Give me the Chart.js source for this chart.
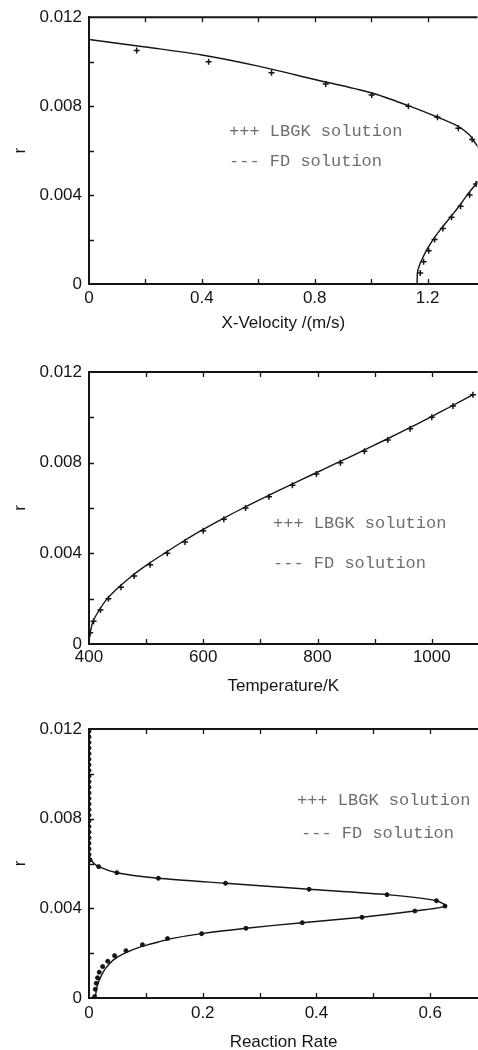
<!DOCTYPE html>
<html>
<head>
<meta charset="utf-8">
<script src="https://cdn.jsdelivr.net/npm/chart.js@4/dist/chart.umd.min.js"></script>
<style>
  html, body { margin: 0; padding: 0; background: #fff; }
  body { width: 478px; height: 1050px; position: relative; overflow: hidden; }
  canvas { position: absolute; left: 0; }
</style>
</head>
<body>
<!-- canvases are a little wider than the page: Chart.js keeps ~5px free on the right -->
<canvas id="velocityChart" width="483" height="340" style="top:0"></canvas>
<canvas id="temperatureChart" width="483" height="360" style="top:340px"></canvas>
<canvas id="rateChart" width="483" height="350" style="top:700px"></canvas>
<script>
// shared axis ticks
const rTicks = [0, 0.004, 0.008, 0.012];

// X-Velocity panel
const velTicks = [0, 0.4, 0.8, 1.2];
const velFdR = [0, 0.0005, 0.0008, 0.0011, 0.0016, 0.0021, 0.0026, 0.0031, 0.0036, 0.004, 0.0045, 0.0048, 0.0052, 0.0056, 0.006, 0.0062, 0.0065, 0.0067, 0.0071, 0.0075, 0.008, 0.0086, 0.0092, 0.0098, 0.0103, 0.01066, 0.011];
const velFdU = [1.163, 1.164, 1.170, 1.180, 1.200, 1.225, 1.255, 1.287, 1.318, 1.340, 1.372, 1.392, 1.405, 1.403, 1.389, 1.377, 1.360, 1.349, 1.307, 1.236, 1.136, 1.0, 0.8, 0.6, 0.4, 0.2, 0];
const velLbR = [0.0005, 0.001, 0.0015, 0.002, 0.0025, 0.003, 0.0035, 0.004, 0.0045, 0.0065, 0.007, 0.0075, 0.008, 0.0085, 0.009, 0.0095, 0.01, 0.0105];
const velLbU = [1.174, 1.186, 1.204, 1.225, 1.254, 1.285, 1.317, 1.349, 1.372, 1.358, 1.309, 1.235, 1.132, 1.002, 0.839, 0.647, 0.424, 0.169];

// Temperature panel
const tempTicks = [400, 600, 800, 1000];
const tempFdR = [0, 0.0003, 0.0006, 0.001, 0.0015, 0.002, 0.0025, 0.003, 0.0035, 0.004, 0.0045, 0.005, 0.0055, 0.006, 0.0065, 0.007, 0.0075, 0.008, 0.0085, 0.009, 0.0095, 0.01, 0.0105, 0.011];
const tempFdT = [400, 401, 403, 407, 418, 432, 452, 475, 502, 532, 563, 596, 632, 670, 710, 751, 793, 835, 877, 918, 958, 997, 1035, 1072];
const tempLbR = [0.0005, 0.001, 0.0015, 0.002, 0.0025, 0.003, 0.0035, 0.004, 0.0045, 0.005, 0.0055, 0.006, 0.0065, 0.007, 0.0075, 0.008, 0.0085, 0.009, 0.0095, 0.01, 0.0105, 0.011];
const tempLbT = [402, 408, 420, 434, 456, 479, 507, 537, 568, 600, 636, 674, 715, 756, 798, 840, 882, 923, 962, 1000, 1037, 1072];

// Reaction rate panel
const rateTicks = [0, 0.2, 0.4, 0.6];
const rateFdR = [0, 0.0005, 0.0009, 0.0013, 0.0017, 0.002, 0.0023, 0.0025, 0.00265, 0.00287, 0.00311, 0.00336, 0.0036, 0.00388, 0.0041, 0.00434, 0.00461, 0.00485, 0.00512, 0.00534, 0.00559, 0.00586, 0.0061, 0.0064, 0.012];
const rateFdW = [0.011, 0.014, 0.020, 0.0285, 0.043, 0.063, 0.093, 0.122, 0.145, 0.198, 0.276, 0.375, 0.48, 0.573, 0.628, 0.611, 0.524, 0.387, 0.24, 0.122, 0.049, 0.017, 0.005, 0, 0];
const rateLbR = [0.00006, 0.00039, 0.00066, 0.0009, 0.00115, 0.0014, 0.00164, 0.00189, 0.00211, 0.00238, 0.00265, 0.00287, 0.00311, 0.00336, 0.0036, 0.00388, 0.0041, 0.00434, 0.00461, 0.00485, 0.00512, 0.00534, 0.00559, 0.00586, 0.00616,
  0.0064, 0.00665, 0.0069, 0.00715, 0.0074, 0.00765, 0.0079, 0.00815, 0.0084, 0.00865, 0.0089, 0.00915, 0.0094, 0.00965, 0.0099, 0.01015, 0.0104, 0.01065, 0.0109, 0.01115, 0.0114, 0.01165, 0.0119];
const rateLbW = [0.0098, 0.011, 0.0128, 0.015, 0.018, 0.024, 0.033, 0.045, 0.065, 0.094, 0.138, 0.198, 0.276, 0.375, 0.48, 0.573, 0.626, 0.611, 0.524, 0.387, 0.24, 0.122, 0.049, 0.017, 0.002,
  0, 0, 0, 0, 0, 0, 0, 0, 0, 0, 0, 0, 0, 0, 0, 0, 0, 0, 0, 0, 0, 0, 0];

const ink = '#151515';
const sans = '"Liberation Sans", Arial, sans-serif';

function pairs(xs, ys) {
    return xs.map((x, i) => ({ x: x, y: ys[i] }));
}

function tickLabel(value, list, step) {
    const hit = list.find(l => Math.abs(l - value) < step * 1e-3);
    return hit === undefined ? '' : String(hit);
}

// top border, inward tick marks and the text legend
function frameBox(notes) {
    return {
        id: 'frameBox',
        afterDatasetsDraw(chart) {
            const { ctx, chartArea: { left, top, right, bottom }, scales: { x, y } } = chart;
            ctx.save();
            ctx.strokeStyle = ink;
            ctx.lineWidth = 2;
            ctx.beginPath();
            ctx.moveTo(left - 1, top);
            ctx.lineTo(right, top);
            ctx.stroke();

            ctx.lineWidth = 1.3;
            ctx.beginPath();
            x.ticks.forEach(t => {
                const px = Math.round(x.getPixelForValue(t.value)) + 0.5;
                if (px < left + 2 || px > right - 1) return;
                ctx.moveTo(px, bottom);
                ctx.lineTo(px, bottom - 5);
                ctx.moveTo(px, top);
                ctx.lineTo(px, top + 5);
            });
            y.ticks.forEach(t => {
                const py = Math.round(y.getPixelForValue(t.value)) + 0.5;
                if (py > bottom - 2 || py < top + 2) return;
                ctx.moveTo(left, py);
                ctx.lineTo(left + 5, py);
            });
            ctx.stroke();

            ctx.font = '17px "Liberation Mono", "Courier New", monospace';
            ctx.fillStyle = '#6e6e6e';
            ctx.textBaseline = 'middle';
            notes.forEach(n => ctx.fillText(n.text, n.x, n.y));
            ctx.restore();
        }
    };
}

function createPanel(id, cfg) {
    const ctx = document.getElementById(id).getContext('2d');
    new Chart(ctx, {
        type: 'scatter',
        data: {
            datasets: [{
                label: 'FD solution',
                data: cfg.fd,
                showLine: true,
                borderColor: ink,
                borderWidth: 1.4,
                pointRadius: 0,
                tension: cfg.tension,
                fill: false
            }, {
                label: 'LBGK solution',
                data: cfg.lb,
                pointStyle: cfg.marker,
                pointRadius: cfg.markerSize,
                borderWidth: cfg.markerLine,
                borderColor: ink,
                backgroundColor: ink
            }]
        },
        options: {
            responsive: false,
            animation: false,
            layout: { padding: { top: cfg.padTop, right: 0, bottom: 0, left: 0 } },
            elements: { line: { capBezierPoints: false } },
            plugins: {
                legend: { display: false },
                tooltip: { enabled: false }
            },
            scales: {
                x: {
                    type: 'linear',
                    min: cfg.xMin,
                    max: cfg.xMax,
                    afterFit: s => {
                        s.height = cfg.xAxisHeight;
                        s.paddingLeft = 0;
                        s.paddingRight = 0;
                    },
                    grid: { display: false, drawTicks: false },
                    border: { display: true, color: ink, width: 2 },
                    ticks: {
                        stepSize: cfg.xStep,
                        includeBounds: false,
                        autoSkip: false,
                        maxRotation: 0,
                        padding: cfg.tickPad,
                        color: ink,
                        font: { family: sans, size: 17 },
                        callback: v => tickLabel(v, cfg.xTicks, cfg.xStep)
                    },
                    title: {
                        display: true,
                        text: cfg.xTitle,
                        color: ink,
                        font: { family: sans, size: 17 },
                        padding: { top: 0, bottom: cfg.titlePad }
                    }
                },
                y: {
                    type: 'linear',
                    min: 0,
                    max: 0.012,
                    afterFit: s => { s.width = 89; },
                    grid: { display: false, drawTicks: false },
                    border: { display: true, color: ink, width: 2 },
                    ticks: {
                        stepSize: 0.002,
                        autoSkip: false,
                        padding: 7,
                        color: ink,
                        font: { family: sans, size: 17 },
                        callback: v => tickLabel(v, rTicks, 0.002)
                    },
                    title: {
                        display: true,
                        text: 'r',
                        color: ink,
                        font: { family: sans, size: 17 },
                        padding: { top: 10, bottom: 0 }
                    }
                }
            }
        },
        plugins: [frameBox(cfg.notes)]
    });
}

document.addEventListener('DOMContentLoaded', () => {
    createPanel('velocityChart', {
        fd: pairs(velFdU, velFdR),
        lb: pairs(velLbU, velLbR),
        xMin: 0, xMax: 1.377, xStep: 0.2, xTicks: velTicks,
        xTitle: 'X-Velocity /(m/s)',
        padTop: 15, xAxisHeight: 56, tickPad: 4, titlePad: 6,
        tension: 0.3, marker: 'cross', markerSize: 3, markerLine: 1.5,
        notes: [
            { text: '+++ LBGK solution', x: 229, y: 131 },
            { text: '--- FD solution', x: 229, y: 161 }
        ]
    });
    createPanel('temperatureChart', {
        fd: pairs(tempFdT, tempFdR),
        lb: pairs(tempLbT, tempLbR),
        xMin: 400, xMax: 1080, xStep: 100, xTicks: tempTicks,
        xTitle: 'Temperature/K',
        padTop: 32, xAxisHeight: 56, tickPad: 3, titlePad: 3,
        tension: 0.3, marker: 'cross', markerSize: 3, markerLine: 1.5,
        notes: [
            { text: '+++ LBGK solution', x: 273, y: 183 },
            { text: '--- FD solution', x: 273, y: 223 }
        ]
    });
    createPanel('rateChart', {
        fd: pairs(rateFdW, rateFdR),
        lb: pairs(rateLbW, rateLbR),
        xMin: 0, xMax: 0.684, xStep: 0.1, xTicks: rateTicks,
        xTitle: 'Reaction Rate',
        padTop: 29, xAxisHeight: 52, tickPad: 5, titlePad: -3,
        tension: 0.2, marker: 'circle', markerSize: 2, markerLine: 1,
        notes: [
            { text: '+++ LBGK solution', x: 297, y: 100 },
            { text: '--- FD solution', x: 301, y: 133 }
        ]
    });
});
</script>
</body>
</html>
